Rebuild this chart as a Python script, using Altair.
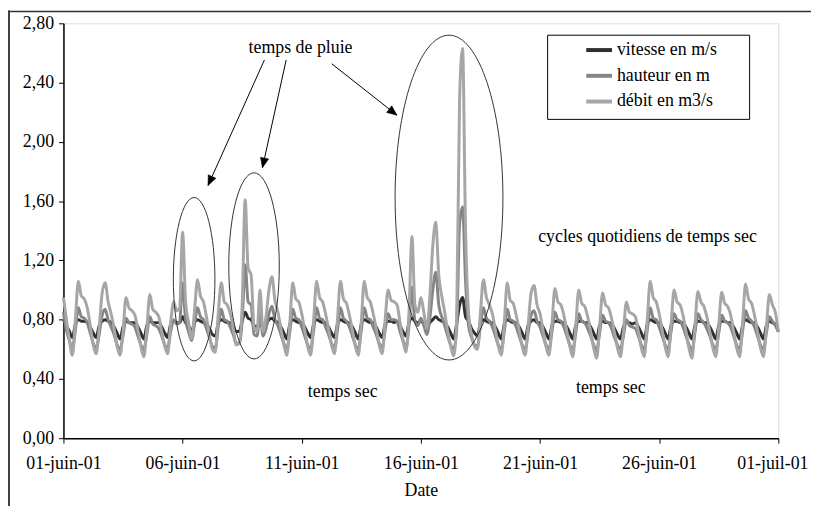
import altair as alt
import pandas as pd

# ---------------- data ----------------
START = "2001-06-01"
HOURS = [0, 3, 6, 9, 12, 15, 18, 21]          # samples each day

# débit en m3/s, one row per day (01 -> 30 juin), 8 samples per day
debit_rows = [
    [0.95, 0.80, 0.66, 0.56, 0.80, 1.06, 0.96, 0.94],
    [0.88, 0.76, 0.63, 0.57, 0.75, 0.98, 1.05, 0.92],
    [0.84, 0.74, 0.62, 0.56, 0.72, 0.95, 0.88, 0.86],
    [0.83, 0.73, 0.62, 0.55, 0.74, 0.97, 0.87, 0.85],
    [0.82, 0.72, 0.62, 0.57, 0.78, 0.92, 0.86, 0.88],
    [1.39, 0.92, 0.78, 0.67, 0.86, 1.07, 0.96, 0.92],
    [0.82, 0.70, 0.60, 0.58, 0.85, 1.05, 0.92, 0.90],
    [0.84, 0.74, 0.63, 0.64, 0.90, 1.61, 1.15, 1.10],
    [0.75, 0.72, 1.00, 0.72, 0.82, 1.00, 1.09, 0.93],
    [0.85, 0.74, 0.63, 0.56, 0.78, 1.05, 0.94, 0.92],
    [0.84, 0.73, 0.62, 0.56, 0.80, 1.06, 0.95, 0.92],
    [0.84, 0.74, 0.63, 0.57, 0.80, 1.06, 0.94, 0.91],
    [0.83, 0.73, 0.62, 0.56, 0.79, 1.06, 0.95, 0.92],
    [0.84, 0.74, 0.63, 0.57, 0.80, 1.00, 0.93, 0.92],
    [0.90, 0.78, 0.66, 0.58, 0.85, 1.36, 0.90, 0.85],
    [0.95, 0.85, 0.74, 0.95, 1.30, 1.46, 1.10, 0.96],
    [0.85, 0.72, 0.62, 0.555, 0.80, 2.30, 2.63, 1.40],
    [0.85, 0.70, 0.62, 0.60, 0.85, 1.07, 0.95, 0.90],
    [0.84, 0.73, 0.62, 0.56, 0.78, 1.05, 0.93, 0.91],
    [0.83, 0.73, 0.62, 0.56, 0.76, 0.98, 1.03, 0.90],
    [0.84, 0.73, 0.62, 0.56, 0.77, 1.01, 0.92, 0.90],
    [0.83, 0.72, 0.62, 0.55, 0.76, 1.00, 0.91, 0.89],
    [0.82, 0.72, 0.61, 0.54, 0.75, 0.98, 0.90, 0.88],
    [0.81, 0.71, 0.61, 0.55, 0.72, 0.92, 0.85, 0.84],
    [0.82, 0.72, 0.61, 0.55, 0.80, 1.06, 0.95, 0.92],
    [0.84, 0.73, 0.62, 0.55, 0.77, 1.00, 0.92, 0.90],
    [0.83, 0.72, 0.61, 0.54, 0.76, 0.99, 0.92, 0.89],
    [0.82, 0.72, 0.61, 0.55, 0.76, 0.985, 0.91, 0.89],
    [0.83, 0.72, 0.61, 0.55, 0.78, 1.04, 0.94, 0.91],
    [0.83, 0.72, 0.61, 0.55, 0.75, 0.97, 0.90, 0.85],
]
debit_end = 0.715

# hauteur en m
hauteur_rows = [
    [0.85, 0.73, 0.66, 0.60, 0.73, 0.88, 0.82, 0.81],
    [0.78, 0.71, 0.64, 0.61, 0.70, 0.83, 0.87, 0.80],
    [0.75, 0.70, 0.63, 0.60, 0.69, 0.81, 0.78, 0.77],
    [0.75, 0.69, 0.63, 0.60, 0.70, 0.82, 0.77, 0.76],
    [0.74, 0.69, 0.63, 0.61, 0.72, 0.80, 0.77, 0.78],
    [1.05, 0.80, 0.72, 0.66, 0.77, 0.88, 0.82, 0.80],
    [0.74, 0.68, 0.62, 0.61, 0.76, 0.87, 0.80, 0.79],
    [0.75, 0.70, 0.64, 0.64, 0.79, 1.17, 0.92, 0.90],
    [0.70, 0.69, 0.84, 0.69, 0.74, 0.84, 0.89, 0.80],
    [0.76, 0.70, 0.64, 0.60, 0.72, 0.87, 0.81, 0.80],
    [0.75, 0.69, 0.63, 0.60, 0.73, 0.88, 0.81, 0.80],
    [0.75, 0.70, 0.64, 0.61, 0.73, 0.88, 0.81, 0.79],
    [0.75, 0.69, 0.63, 0.60, 0.73, 0.88, 0.81, 0.80],
    [0.75, 0.70, 0.64, 0.61, 0.73, 0.84, 0.80, 0.80],
    [0.79, 0.72, 0.66, 0.61, 0.76, 1.02, 0.79, 0.76],
    [0.81, 0.76, 0.70, 0.81, 1.00, 1.12, 0.90, 0.82],
    [0.76, 0.69, 0.63, 0.60, 0.73, 1.45, 1.56, 1.06],
    [0.76, 0.68, 0.63, 0.62, 0.76, 0.88, 0.81, 0.79],
    [0.75, 0.69, 0.63, 0.60, 0.72, 0.87, 0.80, 0.79],
    [0.75, 0.69, 0.63, 0.60, 0.71, 0.83, 0.86, 0.79],
    [0.75, 0.69, 0.63, 0.60, 0.72, 0.85, 0.80, 0.79],
    [0.75, 0.69, 0.63, 0.60, 0.71, 0.84, 0.79, 0.78],
    [0.74, 0.69, 0.63, 0.59, 0.71, 0.83, 0.79, 0.78],
    [0.74, 0.68, 0.63, 0.60, 0.69, 0.80, 0.76, 0.75],
    [0.74, 0.69, 0.63, 0.60, 0.73, 0.88, 0.81, 0.80],
    [0.75, 0.69, 0.63, 0.60, 0.72, 0.84, 0.80, 0.79],
    [0.75, 0.69, 0.63, 0.59, 0.71, 0.84, 0.80, 0.78],
    [0.74, 0.69, 0.63, 0.60, 0.71, 0.83, 0.79, 0.78],
    [0.75, 0.69, 0.63, 0.60, 0.72, 0.86, 0.81, 0.79],
    [0.75, 0.69, 0.63, 0.60, 0.71, 0.82, 0.79, 0.76],
]
hauteur_end = 0.72

# vitesse en m/s
vitesse_rows = [
    [0.80, 0.76, 0.72, 0.68, 0.77, 0.80, 0.79, 0.79],
    [0.78, 0.75, 0.71, 0.68, 0.76, 0.79, 0.80, 0.79],
    [0.78, 0.75, 0.71, 0.67, 0.75, 0.79, 0.78, 0.78],
    [0.78, 0.75, 0.71, 0.67, 0.76, 0.79, 0.78, 0.78],
    [0.78, 0.75, 0.71, 0.68, 0.77, 0.79, 0.78, 0.78],
    [0.82, 0.78, 0.76, 0.72, 0.78, 0.80, 0.79, 0.78],
    [0.77, 0.74, 0.70, 0.69, 0.78, 0.80, 0.79, 0.78],
    [0.78, 0.75, 0.72, 0.72, 0.79, 0.85, 0.81, 0.80],
    [0.76, 0.75, 0.80, 0.74, 0.77, 0.80, 0.81, 0.79],
    [0.78, 0.75, 0.71, 0.67, 0.77, 0.80, 0.79, 0.78],
    [0.78, 0.75, 0.71, 0.68, 0.77, 0.80, 0.79, 0.78],
    [0.78, 0.75, 0.71, 0.68, 0.77, 0.80, 0.79, 0.78],
    [0.78, 0.75, 0.71, 0.67, 0.77, 0.80, 0.79, 0.78],
    [0.78, 0.75, 0.71, 0.68, 0.77, 0.79, 0.79, 0.78],
    [0.79, 0.76, 0.72, 0.69, 0.78, 0.81, 0.79, 0.78],
    [0.79, 0.77, 0.74, 0.78, 0.80, 0.82, 0.80, 0.79],
    [0.78, 0.75, 0.71, 0.67, 0.77, 0.90, 0.95, 0.82],
    [0.79, 0.74, 0.71, 0.69, 0.78, 0.80, 0.79, 0.78],
    [0.78, 0.75, 0.71, 0.67, 0.77, 0.80, 0.79, 0.78],
    [0.78, 0.75, 0.71, 0.67, 0.76, 0.79, 0.80, 0.78],
    [0.78, 0.75, 0.71, 0.67, 0.76, 0.79, 0.79, 0.78],
    [0.78, 0.75, 0.71, 0.67, 0.76, 0.79, 0.79, 0.78],
    [0.78, 0.75, 0.71, 0.67, 0.76, 0.79, 0.78, 0.78],
    [0.77, 0.74, 0.70, 0.67, 0.75, 0.78, 0.78, 0.77],
    [0.78, 0.75, 0.71, 0.67, 0.77, 0.80, 0.79, 0.78],
    [0.78, 0.75, 0.71, 0.67, 0.76, 0.79, 0.79, 0.78],
    [0.78, 0.75, 0.71, 0.67, 0.76, 0.79, 0.79, 0.78],
    [0.78, 0.75, 0.71, 0.67, 0.76, 0.79, 0.79, 0.78],
    [0.78, 0.75, 0.71, 0.67, 0.76, 0.80, 0.79, 0.78],
    [0.78, 0.75, 0.71, 0.67, 0.76, 0.79, 0.78, 0.77],
]
vitesse_end = 0.72

series_names = ["vitesse en m/s", "hauteur en m", "débit en m3/s"]
x_tick_dates = ["2001-06-01", "2001-06-06", "2001-06-11", "2001-06-16",
                "2001-06-21", "2001-06-26", "2001-07-01"]
y_ticks = [0.0, 0.4, 0.8, 1.2, 1.6, 2.0, 2.4, 2.8]

# annotations (positions in data units: day offset from 01 juin, value)
ellipse_ids = ["e1", "e2", "e3"]
ellipse_day = [5.484, 7.998, 16.18]
ellipse_val = [1.073, 1.163, 1.624]

arrow_day_start = [8.434, 9.347, 11.26]
arrow_val_start = [2.553, 2.553, 2.527]
arrow_day_end = [6.066, 8.350, 13.998]
arrow_val_end = [1.705, 1.825, 2.180]
arrow_angle = [114.2, 102.4, 37.7]

note_texts = ["temps de pluie", "cycles quotidiens de temps sec", "temps sec", "temps sec"]
note_day = [9.95, 24.51, 11.72, 22.97]
note_val = [2.63, 1.357, 0.314, 0.341]

# ---------------- tables ----------------
start = pd.Timestamp(START)
times = [start + pd.Timedelta(days=d, hours=h) for d in range(30) for h in HOURS]
times.append(start + pd.Timedelta(days=30))


def flat(rows, end):
    return [v for r in rows for v in r] + [end]


df = pd.concat([
    pd.DataFrame({"date": times, "valeur": flat(vitesse_rows, vitesse_end), "serie": series_names[0]}),
    pd.DataFrame({"date": times, "valeur": flat(hauteur_rows, hauteur_end), "serie": series_names[1]}),
    pd.DataFrame({"date": times, "valeur": flat(debit_rows, debit_end), "serie": series_names[2]}),
], ignore_index=True)


def to_date(days):
    return [start + pd.to_timedelta(d, unit="D") for d in days]


ell_df = pd.DataFrame({"id": ellipse_ids, "date": to_date(ellipse_day), "valeur": ellipse_val})
arr_df = pd.DataFrame({
    "date": to_date(arrow_day_start), "valeur": arrow_val_start,
    "date2": to_date(arrow_day_end), "valeur2": arrow_val_end, "angle": arrow_angle,
})
txt_df = pd.DataFrame({"texte": note_texts, "date": to_date(note_day), "valeur": note_val})
one = pd.DataFrame({"k": [0]})

# ---------------- styles ----------------
FONT = "Liberation Serif"
FS = 18
colors = ["#2f2f2f", "#858585", "#a6a6a6"]

x_dom = [alt.DateTime(year=2001, month=6, date=1), alt.DateTime(year=2001, month=7, date=1)]
x_vals = [alt.DateTime(year=int(s[:4]), month=int(s[5:7]), date=int(s[8:])) for s in x_tick_dates]

x_enc = alt.X(
    "date:T",
    scale=alt.Scale(domain=x_dom, nice=False),
    axis=alt.Axis(
        values=x_vals,
        labelExpr="timeFormat(datum.value, '%d') + '-' + (month(datum.value) == 5 ? 'juin' : 'juil') + '-' + timeFormat(datum.value, '%y')",
        title="Date", titleFontWeight="normal", titleFontSize=FS, titleFont=FONT, titlePadding=9,
        labelFont=FONT, labelFontSize=FS, labelPadding=12, labelFlush=False, labelOverlap=False,
        labelAlign="center", labelBound=False,
        labelOffset={"condition": {"test": "datum.index == 1", "value": -6}, "value": 0},
        tickSize=5, tickColor="black", domainColor="black", domainWidth=1.5, grid=False,
        labelColor="black", titleColor="black",
    ),
)
y_enc = alt.Y(
    "valeur:Q",
    scale=alt.Scale(domain=[0, 2.8], nice=False, zero=True),
    axis=alt.Axis(
        values=y_ticks,
        labelExpr="replace(format(datum.value, '.2f'), '.', ',')",
        title=None, labelFont=FONT, labelFontSize=FS, labelPadding=5,
        tickSize=5, tickColor="black", domainColor="black", domainWidth=1.5, grid=False,
        labelColor="black",
    ),
)

color_enc = alt.Color(
    "serie:N",
    scale=alt.Scale(domain=series_names, range=colors),
    legend=alt.Legend(
        title=None, orient="none", legendX=526, legendY=12, padding=0,
        symbolType="stroke", symbolSize=676, symbolStrokeWidth=4,
        labelFont=FONT, labelFontSize=FS, labelOffset=3, rowPadding=2,
        labelColor="black", strokeColor="transparent",
    ),
)

# legend frame (white box with black border)
legend_box = alt.Chart(one).mark_rect(fill="white", stroke="black", strokeWidth=1).encode(
    x=alt.value(489), x2=alt.value(693), y=alt.value(12), y2=alt.value(97)
)

lines = [
    alt.Chart(df).transform_filter(alt.datum.serie == name)
    .mark_line(strokeWidth=3, strokeJoin="round", interpolate="monotone")
    .encode(x=x_enc, y=y_enc, color=color_enc)
    for name in series_names
]

k = 0.5523
def ellipse_path(a):
    return (f"M {a} 0 C {a} {k} {a*k:.4f} 1 0 1 C {-a*k:.4f} 1 {-a} {k} {-a} 0 "
            f"C {-a} {-k} {-a*k:.4f} -1 0 -1 C {a*k:.4f} -1 {a} {-k} {a} 0 Z")

ell_layers = []
for eid, a, size in zip(ellipse_ids, [0.2545, 0.2713, 0.332], [27225, 35344, 107584]):
    ell_layers.append(
        alt.Chart(ell_df).transform_filter(alt.datum.id == eid)
        .mark_point(shape=ellipse_path(a), filled=False, stroke="#333333", strokeWidth=1,
                    opacity=1, size=size)
        .encode(x="date:T", y="valeur:Q")
    )

shafts = alt.Chart(arr_df).mark_rule(color="black", strokeWidth=1).encode(
    x="date:T", y="valeur:Q", x2="date2:T", y2="valeur2:Q"
)
heads = alt.Chart(arr_df).mark_point(
    shape="M 0 0 L -1 -0.42 L -1 0.42 Z", filled=True, fill="black", stroke="black",
    strokeWidth=0.5, opacity=1, size=400
).encode(x="date2:T", y="valeur2:Q", angle=alt.Angle("angle:Q", scale=None))

notes = alt.Chart(txt_df).mark_text(font=FONT, fontSize=FS, color="black", baseline="middle").encode(
    x="date:T", y="valeur:Q", text="texte:N"
)

frame_left = alt.Chart(one).mark_rule(color="black", strokeWidth=1.5).encode(
    x=alt.value(-55), y=alt.value(-13), y2=alt.value(490)
)
frame_top = alt.Chart(one).mark_rule(color="#333333", strokeWidth=1.5).encode(
    x=alt.value(-56), x2=alt.value(760), y=alt.value(-12)
)

chart = alt.layer(
    legend_box, *lines, *ell_layers, shafts, heads, notes, frame_left, frame_top
).resolve_scale(color="shared").properties(
    width=722, height=419,
    autosize=alt.AutoSizeParams(type="none"),
    padding={"left": 56, "top": 13, "right": 33, "bottom": 66},
).configure_view(stroke="#333333", strokeWidth=1).configure(background="white")

chart.save("out.html", embed_options={"renderer": "svg", "actions": False})
